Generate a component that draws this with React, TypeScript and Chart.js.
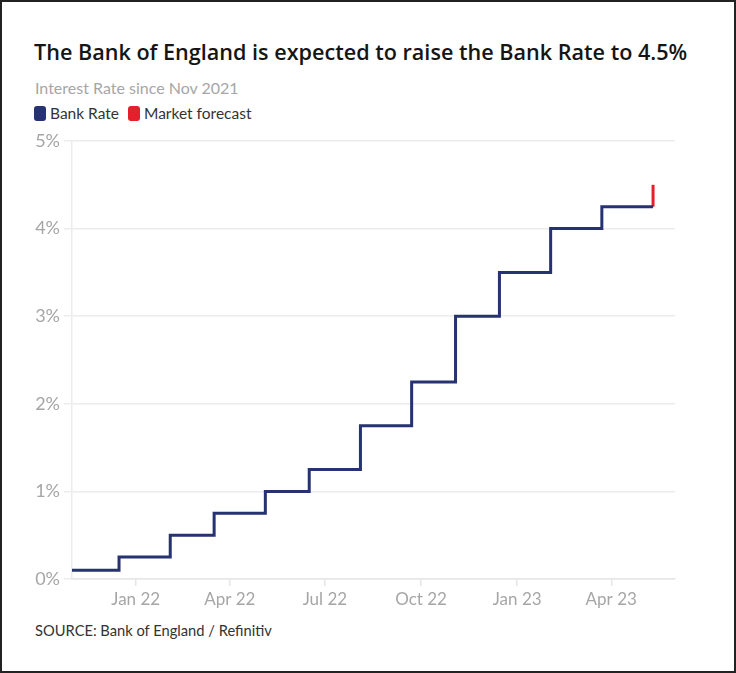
import React, { useEffect, useRef } from "react";
import { Chart, registerables } from "chart.js";

Chart.register(...registerables);

// ---- Data ----
const RATE_DATES = [
  "2021-11-01",
  "2021-12-16",
  "2022-02-03",
  "2022-03-17",
  "2022-05-05",
  "2022-06-16",
  "2022-08-04",
  "2022-09-22",
  "2022-11-03",
  "2022-12-15",
  "2023-02-02",
  "2023-03-23",
  "2023-05-11",
];
const RATE_VALUES = [0.1, 0.25, 0.5, 0.75, 1.0, 1.25, 1.75, 2.25, 3.0, 3.5, 4.0, 4.25, 4.25];

const FORECAST_DATES = ["2023-05-11", "2023-05-11"];
const FORECAST_VALUES = [4.25, 4.5];

const X_START = "2021-11-01";
const X_END = "2023-06-01";
const X_TICK_DATES = ["2022-01-01", "2022-04-01", "2022-07-01", "2022-10-01", "2023-01-01", "2023-04-01"];
const X_TICK_LABELS = ["Jan 22", "Apr 22", "Jul 22", "Oct 22", "Jan 23", "Apr 23"];
const Y_TICKS = [0, 1, 2, 3, 4, 5];

const BLUE = "#263271";
const RED = "#e3202c";
const FONT = "Lato, 'Open Sans', sans-serif";
const TITLE_FONT = "'Open Sans', Lato, sans-serif";

const dayNum = (d: string) => {
  const base = Date.parse(X_START + "T00:00:00Z");
  return Math.round((Date.parse(d + "T00:00:00Z") - base) / 86400000);
};

export default function App() {
  const ref = useRef<HTMLCanvasElement | null>(null);

  useEffect(() => {
    document.body.style.margin = "0";
    if (!ref.current) return;
    const chart = new Chart(ref.current, {
      type: "line",
      data: {
        datasets: [
          {
            label: "Bank Rate",
            data: RATE_DATES.map((d, i) => ({ x: dayNum(d), y: RATE_VALUES[i] })),
            borderColor: BLUE,
            backgroundColor: BLUE,
            borderWidth: 3,
            stepped: true,
            pointRadius: 0,
            fill: false,
            borderCapStyle: "butt",
            borderJoinStyle: "miter",
          },
          {
            label: "Market forecast",
            data: FORECAST_DATES.map((d, i) => ({ x: dayNum(d), y: FORECAST_VALUES[i] })),
            borderColor: RED,
            backgroundColor: RED,
            borderWidth: 3,
            pointRadius: 0,
            fill: false,
            borderCapStyle: "butt",
          },
        ],
      },
      options: {
        animation: false,
        responsive: false,
        devicePixelRatio: 1,
        layout: { padding: { top: 16, right: 61, left: 0, bottom: 0 } },
        plugins: { legend: { display: false }, tooltip: { enabled: false } },
        scales: {
          x: {
            type: "linear",
            min: dayNum(X_START),
            max: dayNum(X_END),
            afterBuildTicks: (s: any) => {
              s.ticks = X_TICK_DATES.map((d) => ({ value: dayNum(d) }));
            },
            afterFit: (s: any) => {
              s.height = 36;
            },
            ticks: {
              autoSkip: false,
              maxRotation: 0,
              padding: 3,
              color: "#a6a6a6",
              font: { family: FONT, size: 17 },
              callback: (_v: any, i: number) => X_TICK_LABELS[i],
            },
            grid: { drawOnChartArea: false, drawTicks: true, tickLength: 7, color: "#e6e6e6", lineWidth: 1.5 },
            border: { display: true, color: "#e6e6e6", width: 1.5 },
          },
          y: {
            min: 0,
            max: 5,
            afterBuildTicks: (s: any) => {
              s.ticks = Y_TICKS.map((v) => ({ value: v }));
            },
            afterFit: (s: any) => {
              s.width = 72;
            },
            ticks: {
              padding: 4,
              color: "#a6a6a6",
              font: { family: FONT, size: 18 },
              callback: (v: any) => v + "%",
            },
            grid: { color: "#ececec", tickLength: 8, lineWidth: 1.5 },
            border: { display: true, color: "#ececec", width: 1.5 },
          },
        },
      },
    });
    return () => chart.destroy();
  }, []);

  const sw = (c: string) => (
    <span
      style={{
        display: "inline-block",
        width: 12,
        height: 15,
        borderRadius: 3,
        background: c,
        verticalAlign: "middle",
        marginRight: 4,
      }}
    />
  );

  return (
    <div style={{ position: "relative", width: 736, height: 673, background: "#fff", fontFamily: FONT, overflow: "hidden" }}>
      <div
        style={{
          position: "absolute",
          left: 34,
          top: 37,
          fontSize: 21.6,
          fontWeight: 600,
          fontFamily: TITLE_FONT,
          color: "#151515",
          whiteSpace: "nowrap",
          lineHeight: "30px",
        }}
      >
        The Bank of England is expected to raise the Bank Rate to 4.5%
      </div>
      <div
        style={{
          position: "absolute",
          left: 35,
          top: 77,
          fontSize: 16,
          color: "#a6a6a6",
          whiteSpace: "nowrap",
          lineHeight: "22px",
        }}
      >
        Interest Rate since Nov 2021
      </div>
      <div
        style={{
          position: "absolute",
          left: 34,
          top: 102,
          fontSize: 15.5,
          color: "#333",
          whiteSpace: "nowrap",
          lineHeight: "22px",
          display: "flex",
          alignItems: "center",
        }}
      >
        {sw(BLUE)}
        <span style={{ marginRight: 9 }}>Bank Rate</span>
        {sw(RED)}
        <span>Market forecast</span>
      </div>
      <canvas
        ref={ref}
        width={736}
        height={490}
        style={{ position: "absolute", left: 0, top: 125, width: 736, height: 490 }}
      />
      <div
        style={{
          position: "absolute",
          left: 35,
          top: 619,
          fontSize: 14.7,
          color: "#333",
          whiteSpace: "nowrap",
          lineHeight: "22px",
        }}
      >
        SOURCE: Bank of England / Refinitiv
      </div>
      <div
        style={{
          position: "absolute",
          inset: 0,
          border: "2px solid #222",
          boxSizing: "border-box",
          pointerEvents: "none",
        }}
      />
    </div>
  );
}
